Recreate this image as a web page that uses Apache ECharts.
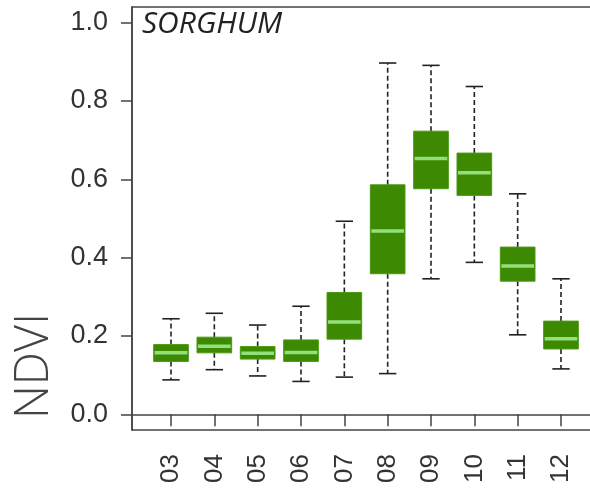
<!DOCTYPE html>
<html>
<head>
<meta charset="utf-8">
<script src="https://cdn.jsdelivr.net/npm/echarts@6/dist/echarts.min.js"></script>
<style>
  html, body { margin: 0; padding: 0; background: #fff; }
  #chart { width: 590px; height: 489px; }
</style>
</head>
<body>
<div id="chart"></div>
<script>
// Monthly NDVI distribution for sorghum fields
const months = ['03', '04', '05', '06', '07', '08', '09', '10', '11', '12'];
const whiskerLow  = [0.088, 0.114, 0.098, 0.084, 0.095, 0.104, 0.346, 0.388, 0.203, 0.116];
const quartile1   = [0.135, 0.157, 0.141, 0.135, 0.192, 0.359, 0.576, 0.559, 0.340, 0.167];
const medians     = [0.157, 0.174, 0.156, 0.158, 0.236, 0.468, 0.653, 0.617, 0.379, 0.193];
const quartile3   = [0.178, 0.197, 0.173, 0.190, 0.311, 0.586, 0.723, 0.667, 0.427, 0.238];
const whiskerHigh = [0.244, 0.258, 0.228, 0.276, 0.493, 0.897, 0.891, 0.837, 0.563, 0.346];
const yTicks = [0, 0.2, 0.4, 0.6, 0.8, 1.0];

const positions = months.map((m, i) => i + 1);
const boxData = months.map((m, i) => [
  positions[i], whiskerLow[i], quartile1[i], medians[i], quartile3[i], whiskerHigh[i]
]);

const BOX_FILL = '#3d8a02';
const MEDIAN_COLOR = '#92e07c';
const WHISKER_COLOR = '#222';
const AXIS_COLOR = '#444';
const TICK_FONT = '"Liberation Sans", Arial, sans-serif';

function renderBox(params, api) {
  const x = api.value(0);
  const lo = api.coord([x, api.value(1)]);
  const q1 = api.coord([x, api.value(2)]);
  const md = api.coord([x, api.value(3)]);
  const q3 = api.coord([x, api.value(4)]);
  const hi = api.coord([x, api.value(5)]);
  const boxW = api.size([0.8, 0])[0];
  const capW = api.size([0.4, 0])[0];
  const cx = lo[0];
  const dash = { stroke: WHISKER_COLOR, lineWidth: 1.6, lineDash: [5, 3] };
  const solid = { stroke: WHISKER_COLOR, lineWidth: 1.6 };
  return {
    type: 'group',
    children: [
      { type: 'line', shape: { x1: cx, y1: q3[1], x2: cx, y2: hi[1] }, style: dash },
      { type: 'line', shape: { x1: cx, y1: q1[1], x2: cx, y2: lo[1] }, style: dash },
      { type: 'line', shape: { x1: cx - capW / 2, y1: hi[1], x2: cx + capW / 2, y2: hi[1] }, style: solid },
      { type: 'line', shape: { x1: cx - capW / 2, y1: lo[1], x2: cx + capW / 2, y2: lo[1] }, style: solid },
      { type: 'rect', shape: { x: cx - boxW / 2, y: q3[1], width: boxW, height: q1[1] - q3[1] },
        style: { fill: BOX_FILL, stroke: '#4a9a10', lineWidth: 1 } },
      { type: 'line', shape: { x1: cx - boxW / 2 + 1, y1: md[1], x2: cx + boxW / 2 - 1, y2: md[1] },
        style: { stroke: MEDIAN_COLOR, lineWidth: 3.5 } }
    ]
  };
}

const chart = echarts.init(document.getElementById('chart'), null, { renderer: 'canvas' });
chart.setOption({
  animation: false,
  backgroundColor: '#fff',
  grid: {
    left: 132, top: 7, right: -10, bottom: 59,
    outerBoundsMode: 'none', containLabel: false,
    show: true, borderColor: AXIS_COLOR, borderWidth: 1.5, backgroundColor: 'transparent'
  },
  xAxis: {
    type: 'value', min: 0.1, max: 10.9,
    splitLine: { show: false },
    axisLine: { show: true, lineStyle: { color: AXIS_COLOR, width: 1.5 } },
    axisTick: { show: true, length: 12, customValues: positions, lineStyle: { color: AXIS_COLOR, width: 1.5 } },
    axisLabel: {
      customValues: positions, rotate: 90, margin: 24,
      fontFamily: TICK_FONT, fontSize: 26, color: '#333',
      formatter: v => months[Math.round(v) - 1]
    }
  },
  yAxis: {
    type: 'value', min: -0.04, max: 1.04,
    splitLine: { show: false },
    axisLine: { show: true, lineStyle: { color: AXIS_COLOR, width: 1.5 } },
    axisTick: { show: true, length: 11, customValues: yTicks, lineStyle: { color: AXIS_COLOR, width: 1.5 } },
    axisLabel: {
      customValues: yTicks, margin: 24,
      fontFamily: TICK_FONT, fontSize: 27, color: '#333',
      formatter: v => v.toFixed(1)
    }
  },
  graphic: [
    {
      type: 'text', left: 142, top: 9,
      style: { text: 'SORGHUM', fontFamily: '"Open Sans", sans-serif', fontStyle: 'italic',
               fontSize: 30, fill: '#222' }
    },
    {
      type: 'text', x: 35, y: 366, rotation: Math.PI / 2,
      style: { text: 'NDVI', fontFamily: '"Open Sans", sans-serif', fontWeight: 300,
               fontSize: 47, fill: '#444', align: 'center', verticalAlign: 'middle' }
    }
  ],
  series: [{
    type: 'custom',
    renderItem: renderBox,
    data: boxData,
    encode: { x: 0, y: [1, 2, 3, 4, 5] },
    clip: false
  }]
});
</script>
</body>
</html>
